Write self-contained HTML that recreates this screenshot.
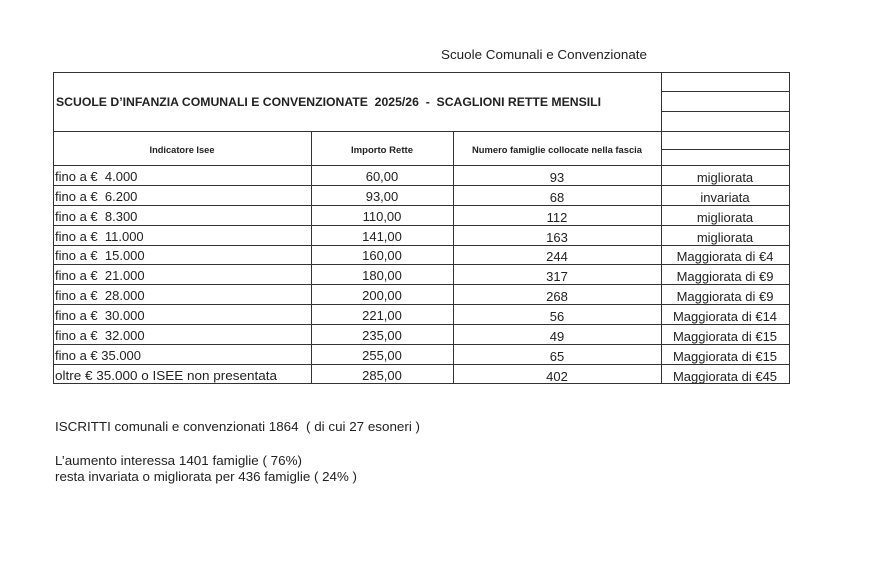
<!DOCTYPE html>
<html><head><meta charset="utf-8"><style>
html,body{margin:0;padding:0;background:#fff;}
svg{display:block;font-family:"Liberation Sans",sans-serif;}
text{white-space:pre;}
</style></head><body>
<svg width="888" height="582" viewBox="0 0 888 582" xml:space="preserve">
<g stroke="#333" stroke-width="1" fill="none">
<rect x="53.5" y="72.5" width="736" height="311"/>
<line x1="661.5" y1="72" x2="661.5" y2="384"/>
<line x1="662" y1="91.5" x2="790" y2="91.5"/>
<line x1="662" y1="111.5" x2="790" y2="111.5"/>
<line x1="53" y1="131.5" x2="790" y2="131.5"/>
<line x1="662" y1="149.5" x2="790" y2="149.5"/>
<line x1="311.5" y1="131" x2="311.5" y2="384"/>
<line x1="453.5" y1="131" x2="453.5" y2="384"/>
<line x1="53" y1="165.5" x2="790" y2="165.5"/>
<line x1="53" y1="185.5" x2="790" y2="185.5"/>
<line x1="53" y1="205.5" x2="790" y2="205.5"/>
<line x1="53" y1="225.5" x2="790" y2="225.5"/>
<line x1="53" y1="245.5" x2="790" y2="245.5"/>
<line x1="53" y1="264.5" x2="790" y2="264.5"/>
<line x1="53" y1="284.5" x2="790" y2="284.5"/>
<line x1="53" y1="304.5" x2="790" y2="304.5"/>
<line x1="53" y1="324.5" x2="790" y2="324.5"/>
<line x1="53" y1="344.5" x2="790" y2="344.5"/>
<line x1="53" y1="364.5" x2="790" y2="364.5"/>
</g>
<g fill="#222" font-size="12.5">
<text x="441" y="59" textLength="206" lengthAdjust="spacingAndGlyphs">Scuole Comunali e Convenzionate</text>
<text x="56" y="106" font-weight="bold" font-size="11.5" textLength="545" lengthAdjust="spacingAndGlyphs">SCUOLE D’INFANZIA COMUNALI E CONVENZIONATE  2025/26  -  SCAGLIONI RETTE MENSILI</text>
<g font-weight="bold" font-size="9" text-anchor="middle">
<text x="182" y="153" textLength="65" lengthAdjust="spacingAndGlyphs">Indicatore Isee</text>
<text x="382" y="153" textLength="62" lengthAdjust="spacingAndGlyphs">Importo Rette</text>
<text x="557" y="153" textLength="170" lengthAdjust="spacingAndGlyphs">Numero famiglie collocate nella fascia</text>
</g>
<g font-size="13">
<text x="55" y="181">fino a €  4.000</text>
<text x="55" y="201">fino a €  6.200</text>
<text x="55" y="221">fino a €  8.300</text>
<text x="55" y="241">fino a €  11.000</text>
<text x="55" y="260">fino a €  15.000</text>
<text x="55" y="280">fino a €  21.000</text>
<text x="55" y="300">fino a €  28.000</text>
<text x="55" y="320">fino a €  30.000</text>
<text x="55" y="340">fino a €  32.000</text>
<text x="55" y="360">fino a € 35.000</text>
<text x="55" y="380" textLength="222" lengthAdjust="spacingAndGlyphs">oltre € 35.000 o ISEE non presentata</text>
</g>
<g text-anchor="middle" font-size="13">
<text x="382" y="181">60,00</text><text x="557" y="182">93</text><text x="725" y="182">migliorata</text>
<text x="382" y="201">93,00</text><text x="557" y="202">68</text><text x="725" y="202">invariata</text>
<text x="382" y="221">110,00</text><text x="557" y="222">112</text><text x="725" y="222">migliorata</text>
<text x="382" y="241">141,00</text><text x="557" y="242">163</text><text x="725" y="242">migliorata</text>
<text x="382" y="260">160,00</text><text x="557" y="261">244</text><text x="725" y="261">Maggiorata di €4</text>
<text x="382" y="280">180,00</text><text x="557" y="281">317</text><text x="725" y="281">Maggiorata di €9</text>
<text x="382" y="300">200,00</text><text x="557" y="301">268</text><text x="725" y="301">Maggiorata di €9</text>
<text x="382" y="320">221,00</text><text x="557" y="321">56</text><text x="725" y="321">Maggiorata di €14</text>
<text x="382" y="340">235,00</text><text x="557" y="341">49</text><text x="725" y="341">Maggiorata di €15</text>
<text x="382" y="360">255,00</text><text x="557" y="361">65</text><text x="725" y="361">Maggiorata di €15</text>
<text x="382" y="380">285,00</text><text x="557" y="381">402</text><text x="725" y="381">Maggiorata di €45</text>
</g>
<text x="55" y="431" textLength="365" lengthAdjust="spacingAndGlyphs">ISCRITTI comunali e convenzionati 1864  ( di cui 27 esoneri )</text>
<text x="55" y="465" textLength="247" lengthAdjust="spacingAndGlyphs">L’aumento interessa 1401 famiglie ( 76%)</text>
<text x="55" y="481" textLength="302" lengthAdjust="spacingAndGlyphs">resta invariata o migliorata per 436 famiglie ( 24% )</text>
</g>
</svg>
</body></html>
